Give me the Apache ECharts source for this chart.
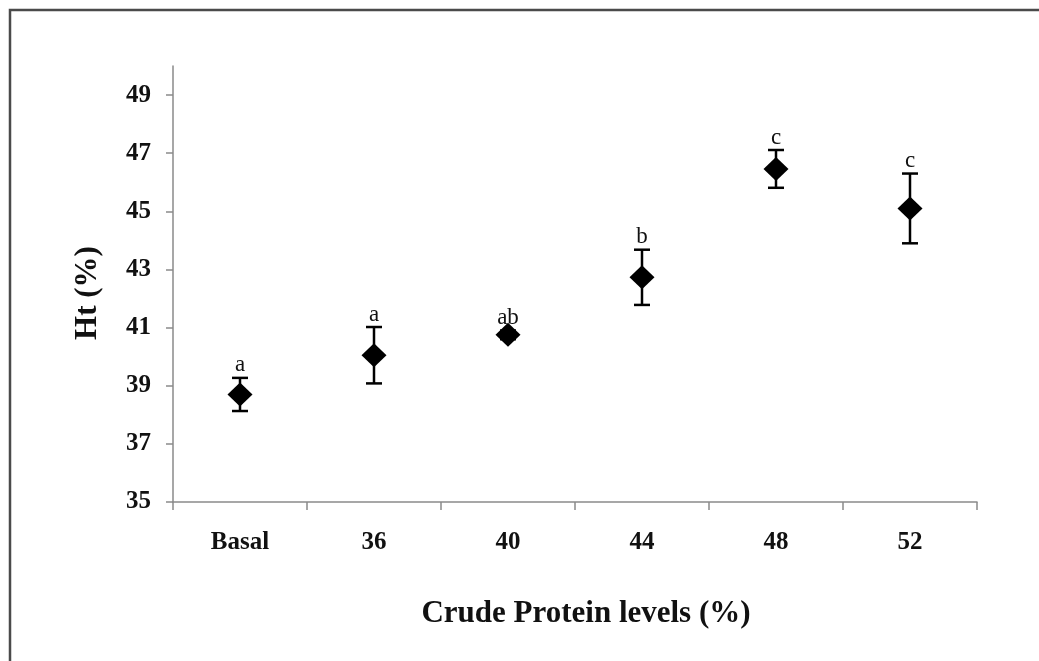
<!DOCTYPE html>
<html>
<head>
<meta charset="utf-8">
<script src="https://cdn.jsdelivr.net/npm/echarts@6/dist/echarts.min.js"></script>
<style>
  html, body { margin: 0; padding: 0; background: #fff; }
  #main { width: 1039px; height: 661px; }
</style>
</head>
<body>
<div id="main"></div>
<script>
// crude protein levels
const levels = ["Basal", "36", "40", "44", "48", "52"];
// Ht (%) means and standard errors
const htMean = [38.7, 40.05, 40.75, 42.73, 46.46, 45.1];
const htErr = [0.57, 0.97, 0.15, 0.95, 0.65, 1.2];
// significance letters
const sigLetters = ["a", "a", "ab", "b", "c", "c"];
const yTicks = [35, 37, 39, 41, 43, 45, 47, 49];

const serif = "'Liberation Serif', 'Times New Roman', serif";
let myChart = echarts.init(document.getElementById("main"));

let errData = htMean.map((m, i) => [i, m - htErr[i], m + htErr[i], sigLetters[i]]);

let option = {
  animation: false,
  backgroundColor: "#fff",
  graphic: [
    {
      type: "rect",
      shape: { x: 10, y: 10, width: 1060, height: 700 },
      style: { fill: "none", stroke: "#4a4a4a", lineWidth: 2.5 },
      silent: true,
    },
    {
      // y axis title
      type: "text",
      x: 88,
      y: 293,
      rotation: Math.PI / 2,
      style: {
        text: "Ht (%)",
        fill: "#111",
        font: "bold 31px " + serif,
        textAlign: "center",
        textVerticalAlign: "middle",
      },
      silent: true,
    },
  ],
  grid: { left: 173, right: 62, top: 66, bottom: 159 },
  xAxis: {
    type: "category",
    data: levels,
    boundaryGap: true,
    axisLine: { lineStyle: { color: "#8a8a8a", width: 1.5 } },
    axisTick: { show: true, length: 8, lineStyle: { color: "#8a8a8a", width: 1.5 } },
    axisLabel: { color: "#111", fontFamily: serif, fontSize: 25, fontWeight: "bold", margin: 28 },
    name: "Crude Protein levels (%)",
    nameLocation: "middle",
    nameGap: 96,
    nameTextStyle: {
      color: "#111",
      fontFamily: serif,
      fontSize: 31,
      fontWeight: "bold",
      padding: [0, 0, 0, 22],
    },
  },
  yAxis: {
    type: "value",
    min: 35,
    max: 50,
    interval: 2,
    splitLine: { show: false },
    axisLine: { show: true, lineStyle: { color: "#8a8a8a", width: 1.5 } },
    axisTick: { show: true, length: 7, customValues: yTicks, lineStyle: { color: "#8a8a8a", width: 1.5 } },
    axisLabel: { color: "#111", fontFamily: serif, fontSize: 25, fontWeight: "bold", margin: 22, customValues: yTicks },
  },
  series: [
    {
      name: "err",
      type: "custom",
      data: errData,
      z: 3,
      renderItem: function (params, api) {
        let x = api.value(0);
        let lo = api.coord([x, api.value(1)]);
        let hi = api.coord([x, api.value(2)]);
        let half = 8;
        let st = { stroke: "#000", lineWidth: 2.5 };
        return {
          type: "group",
          children: [
            { type: "line", shape: { x1: lo[0], y1: lo[1], x2: hi[0], y2: hi[1] }, style: st },
            { type: "line", shape: { x1: hi[0] - half, y1: hi[1], x2: hi[0] + half, y2: hi[1] }, style: st },
            { type: "line", shape: { x1: lo[0] - half, y1: lo[1], x2: lo[0] + half, y2: lo[1] }, style: st },
            {
              type: "text",
              x: hi[0],
              y: hi[1] - 1,
              style: {
                text: api.value(3),
                fill: "#111",
                font: "23px " + serif,
                textAlign: "center",
                textVerticalAlign: "bottom",
              },
            },
          ],
        };
      },
    },
    {
      name: "Ht",
      type: "scatter",
      symbol: "diamond",
      symbolSize: [25, 24],
      z: 4,
      itemStyle: { color: "#000", opacity: 1 },
      data: htMean,
    },
  ],
};
myChart.setOption(option);
</script>
</body>
</html>
